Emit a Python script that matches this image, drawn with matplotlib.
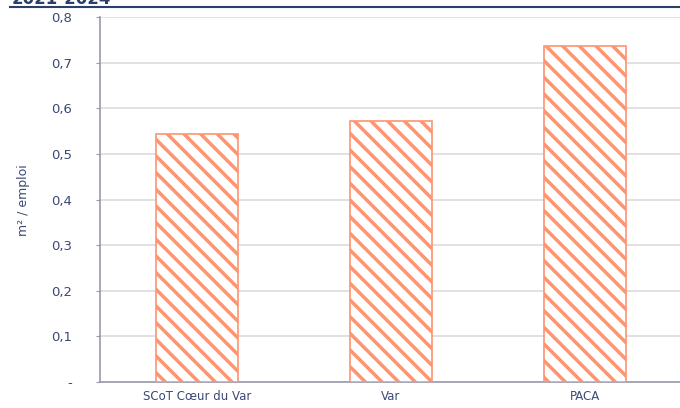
import matplotlib
matplotlib.use("Agg")
import matplotlib.pyplot as plt
from matplotlib.ticker import FixedLocator, FixedFormatter

categories = ["SCoT Cœur du Var", "Var", "PACA"]
values = [0.544, 0.573, 0.737]
yticks = [0, 0.1, 0.2, 0.3, 0.4, 0.5, 0.6, 0.7, 0.8]
ytick_labels = ["-", "0,1", "0,2", "0,3", "0,4", "0,5", "0,6", "0,7", "0,8"]
title = "2021-2024"
ylabel = "m² / emploi"

navy = "#2B3F6B"
text_col = "#3B4A74"
salmon = "#FF9470"

plt.rcParams['font.family'] = ['DejaVu Sans']
plt.rcParams['hatch.linewidth'] = 2.5
plt.rcParams['hatch.color'] = salmon

W, H = 680, 408
fig = plt.figure(figsize=(6.8, 4.08), dpi=100)
ax = fig.add_axes([100 / W, 1 - 382 / H, 582 / W, 365 / H])

x = list(range(len(categories)))
ax.bar(x, values, width=0.42, facecolor="white", edgecolor=salmon,
       hatch="\\\\", linewidth=1.2, zorder=3)

ax.set_xlim(-0.5, 2.5)
ax.set_ylim(0, 0.8)
ax.yaxis.set_major_locator(FixedLocator(yticks))
ax.yaxis.set_major_formatter(FixedFormatter(ytick_labels))
ax.set_xticks(x)
ax.set_xticklabels(categories)
ax.tick_params(axis='y', colors="#9A9AAA", labelcolor=text_col, labelsize=9.5,
               length=3, pad=17)
ax.tick_params(axis='x', length=0, labelcolor=text_col, labelsize=8.5, pad=6)
ax.grid(axis='y', color="#DCDCDC", linewidth=1.2, zorder=0)
ax.set_axisbelow(True)
for s in ["top", "right"]:
    ax.spines[s].set_visible(False)
ax.spines["left"].set_color("#9A9AAA")
ax.spines["bottom"].set_color("#9A9AAA")
ax.spines["left"].set_linewidth(1.2)
ax.spines["bottom"].set_linewidth(1.2)

fig.text(23 / W, 1 - 200 / H, ylabel, rotation=90, ha="center", va="center",
         color=text_col, fontsize=9)

# title (cut at top in the reference) and rule
fig.text(12 / W, 1 - 4 / H, title, ha="left", va="baseline", color=navy,
         fontsize=12, fontweight="bold")
fig.add_artist(plt.Line2D([10 / W, 1.0], [1 - 6.5 / H, 1 - 6.5 / H],
                          transform=fig.transFigure, color=navy, linewidth=1.5))

fig.savefig("out.png", dpi=100)
